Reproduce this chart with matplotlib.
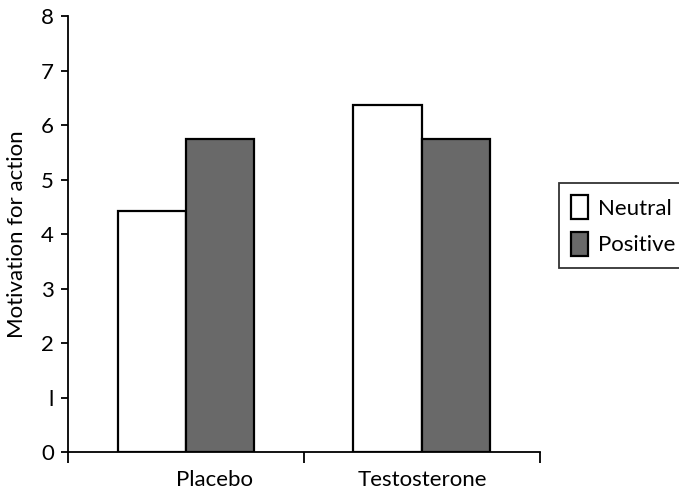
import numpy as np
import matplotlib
matplotlib.use("Agg")
import matplotlib.pyplot as plt

plt.rcParams['font.family'] = ['Lato', 'DejaVu Sans']

groups = ['Placebo', 'Testosterone']
series = ['Neutral', 'Positive']
neutral = [4.43, 6.36]
positive = [5.75, 5.75]
yticks = [0, 1, 2, 3, 4, 5, 6, 7, 8]

FS = 16

fig = plt.figure(figsize=(6.79, 4.93), dpi=100)
ax = fig.add_axes([0.1001, 0.083, 0.695, 0.8845])

x = np.arange(len(groups))
w = 0.29
ax.bar(x - w / 2, neutral, w, color='white', edgecolor='black',
       linewidth=1.6, label=series[0], zorder=3)
ax.bar(x + w / 2, positive, w, color='#696969', edgecolor='black',
       linewidth=1.6, label=series[1], zorder=3)

ax.set_xlim(-0.5, len(groups) - 0.5)
ax.set_ylim(0, 8)
ax.set_yticks(yticks)
ax.set_yticklabels(['0', 'l', '2', '3', '4', '5', '6', '7', '8'])

# group separators as ticks under the x axis
ax.set_xticks(np.arange(len(groups) + 1) - 0.5)
ax.set_xticklabels([])
ax.tick_params(axis='x', length=8, width=1.3, direction='out')
ax.tick_params(axis='y', length=5, width=1.3, direction='out',
               labelsize=FS, pad=5)

# category names (Placebo sits a bit right of its group centre)
label_shift = [0.12, 0.0]
for i, g in enumerate(groups):
    ax.text(x[i] + label_shift[i], -0.33, g, ha='center', va='top',
            fontsize=FS, transform=ax.transData)

for s in ['top', 'right']:
    ax.spines[s].set_visible(False)
for s in ['left', 'bottom']:
    ax.spines[s].set_linewidth(1.3)

ax.set_ylabel('Motivation for action', fontsize=FS, labelpad=10)

leg = ax.legend(loc='upper left', bbox_to_anchor=(1.040, 0.617), frameon=True,
                fancybox=False, edgecolor='black', fontsize=FS,
                handlelength=0.75, handleheight=1.3, handletextpad=0.45,
                borderpad=0.55, labelspacing=0.55, borderaxespad=0)
leg.get_frame().set_linewidth(1.3)

fig.savefig('out.png', dpi=100)
